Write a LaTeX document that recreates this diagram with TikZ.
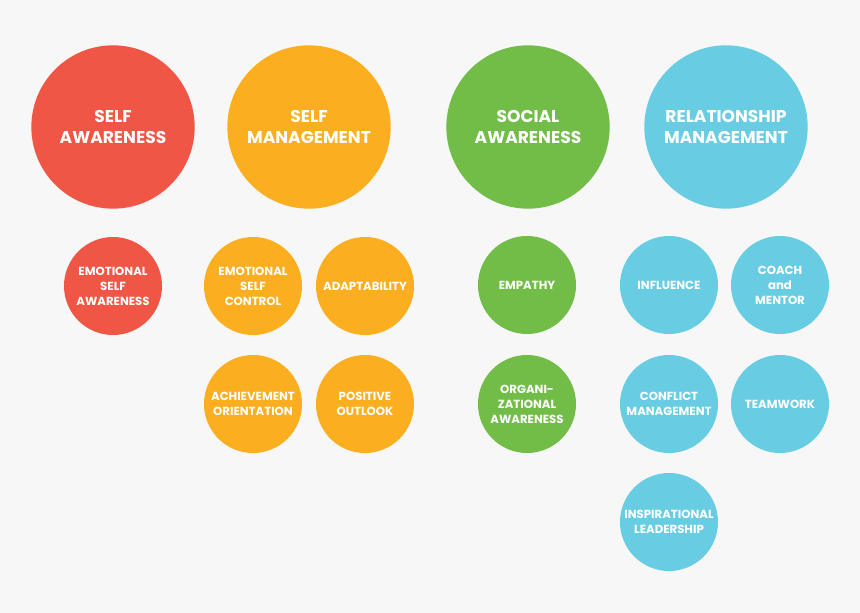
\documentclass[tikz,border=0pt]{standalone}
\usepackage{fontspec}
\setmainfont{Poppins}
\usepackage{tikz}
\definecolor{eibg}{HTML}{F7F7F7}
\definecolor{eired}{HTML}{F05646}
\definecolor{eiorange}{HTML}{FBAF20}
\definecolor{eigreen}{HTML}{71BD48}
\definecolor{eiblue}{HTML}{68CDE2}
\tikzset{
  domcirc/.style={circle, minimum size=122.5pt, inner sep=0pt,
    text=white, align=center, font=\bfseries\fontsize{12.8}{15.8}\selectfont},
  compcirc/.style={circle, minimum size=73.5pt, inner sep=0pt,
    text=white, align=center, font=\bfseries\fontsize{8.8}{11.3}\selectfont},
}
\begin{document}
\begin{tikzpicture}[x=0.75pt, y=-0.75pt]
  \fill[eibg] (0,0) rectangle (860,613);
  \useasboundingbox (0,0) rectangle (860,613);
  % Row 0: the four domains
  \node[domcirc, fill=eired]    at (113,127) (SA) {SELF\\AWARENESS};
  \node[domcirc, fill=eiorange] at (309,127) (SM) {SELF\\MANAGEMENT};
  \node[domcirc, fill=eigreen]  at (528,127) (SoA) {SOCIAL\\AWARENESS};
  \node[domcirc, fill=eiblue]   at (726,127) (RM) {RELATIONSHIP\\MANAGEMENT};
  % Self awareness competencies
  \node[compcirc, fill=eired]    at (113,286) (ESA) {EMOTIONAL\\SELF\\AWARENESS};
  % Self management competencies
  \node[compcirc, fill=eiorange] at (253,286) (ESC) {EMOTIONAL\\SELF\\CONTROL};
  \node[compcirc, fill=eiorange] at (365,286) (Ada) {ADAPTABILITY};
  \node[compcirc, fill=eiorange] at (253,404) (Ach) {ACHIEVEMENT\\ORIENTATION};
  \node[compcirc, fill=eiorange] at (365,404) (Pos) {POSITIVE\\OUTLOOK};
  % Social awareness competencies
  \node[compcirc, fill=eigreen]  at (527,285) (Emp) {EMPATHY};
  \node[compcirc, fill=eigreen]  at (527,404) (Org) {ORGANI-\\ZATIONAL\\AWARENESS};
  % Relationship management competencies
  \node[compcirc, fill=eiblue]   at (669,285) (Inf) {INFLUENCE};
  \node[compcirc, fill=eiblue]   at (780,285) (Coa) {COACH\\and\\MENTOR};
  \node[compcirc, fill=eiblue]   at (669,404) (Con) {CONFLICT\\MANAGEMENT};
  \node[compcirc, fill=eiblue]   at (780,404) (Tea) {TEAMWORK};
  \node[compcirc, fill=eiblue]   at (669,522) (Ins) {INSPIRATIONAL\\LEADERSHIP};
\end{tikzpicture}
\end{document}
